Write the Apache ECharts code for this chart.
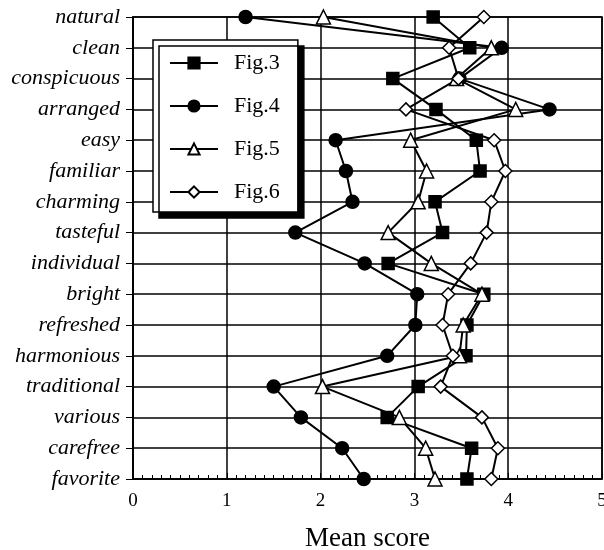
<!DOCTYPE html>
<html><head><meta charset="utf-8">
<script src="https://cdn.jsdelivr.net/npm/echarts@6/dist/echarts.min.js"></script>
<style>html,body{margin:0;padding:0;background:#fff}#c{width:604px;height:550px}</style>
</head><body><div id="c"></div>
<script>
const categories = ['natural','clean','conspicuous','arranged','easy','familiar','charming','tasteful','individual','bright','refreshed','harmonious','traditional','various','carefree','favorite'];
const fig3 = [3.20,3.59,2.77,3.23,3.66,3.70,3.22,3.30,2.72,3.74,3.56,3.55,3.04,2.71,3.61,3.56];
const fig4 = [1.20,3.93,3.48,4.44,2.16,2.27,2.34,1.73,2.47,3.03,3.01,2.71,1.50,1.79,2.23,2.46];
const fig5 = [2.03,3.82,3.45,4.08,2.96,3.13,3.04,2.72,3.18,3.72,3.52,3.48,2.02,2.84,3.12,3.22];
const fig6 = [3.74,3.37,3.47,2.91,3.85,3.97,3.82,3.77,3.60,3.36,3.30,3.41,3.28,3.72,3.89,3.82];
const xTicks = [0,1,2,3,4,5];

const font = 'Liberation Serif';
function mk(name, data, symbol, size, filled){
  return {name, type:'line', data, symbol, symbolSize:size,
    lineStyle:{color:'#000', width:2},
    itemStyle:{color: filled ? '#000' : '#fff', borderColor:'#000', borderWidth:1.5},
    emphasis:{disabled:true}, z: filled?3:4};
}
const chart = echarts.init(document.getElementById('c'), null, {renderer:'canvas'});
chart.setOption({
  animation:false,
  backgroundColor:'#fff',
  grid:{left:133, top:17, right:2, bottom:71, outerBoundsMode:'none', containLabel:false,
        show:true, borderColor:'#000', borderWidth:1.5, backgroundColor:'transparent'},
  legend:{
    orient:'vertical', left:153, top:40,
    padding:[12,18,9,16],
    itemWidth:48, itemHeight:14, itemGap:21,
    backgroundColor:'#fff', borderColor:'#000', borderWidth:1.5,
    shadowColor:'#000', shadowBlur:0, shadowOffsetX:6, shadowOffsetY:6,
    textStyle:{fontFamily:font, fontSize:22, color:'#000', padding:[0,0,0,11]},
    data:['Fig.3','Fig.4','Fig.5','Fig.6']
  },
  xAxis:{
    type:'value', min:xTicks[0], max:xTicks[xTicks.length-1], interval:1,
    name:'Mean score', nameLocation:'middle', nameGap:46,
    nameTextStyle:{fontFamily:font, fontSize:27, color:'#000'},
    axisLine:{show:true, lineStyle:{color:'#000', width:1.5}},
    axisTick:{show:true, inside:true, length:6, lineStyle:{color:'#000'}},
    minorTick:{show:true, splitNumber:10, length:4, lineStyle:{color:'#000'}},
    axisLabel:{fontFamily:font, fontSize:19, color:'#000', margin:13, formatter: v => String(v)},
    splitLine:{show:true, lineStyle:{color:'#000', width:1.5}}
  },
  yAxis:{
    type:'category', data:categories, inverse:true, boundaryGap:false,
    axisLine:{show:true, lineStyle:{color:'#000', width:2}},
    axisTick:{show:true, length:7, lineStyle:{color:'#000'}},
    axisLabel:{fontFamily:font, fontStyle:'italic', fontSize:22, color:'#000', margin:13},
    splitLine:{show:true, lineStyle:{color:'#000', width:1.5}}
  },
  series:[
    mk('Fig.3', fig3, 'rect', 12, true),
    mk('Fig.4', fig4, 'circle', 13, true),
    mk('Fig.5', fig5, 'triangle', 14, false),
    mk('Fig.6', fig6, 'diamond', 13, false)
  ]
});
</script></body></html>
